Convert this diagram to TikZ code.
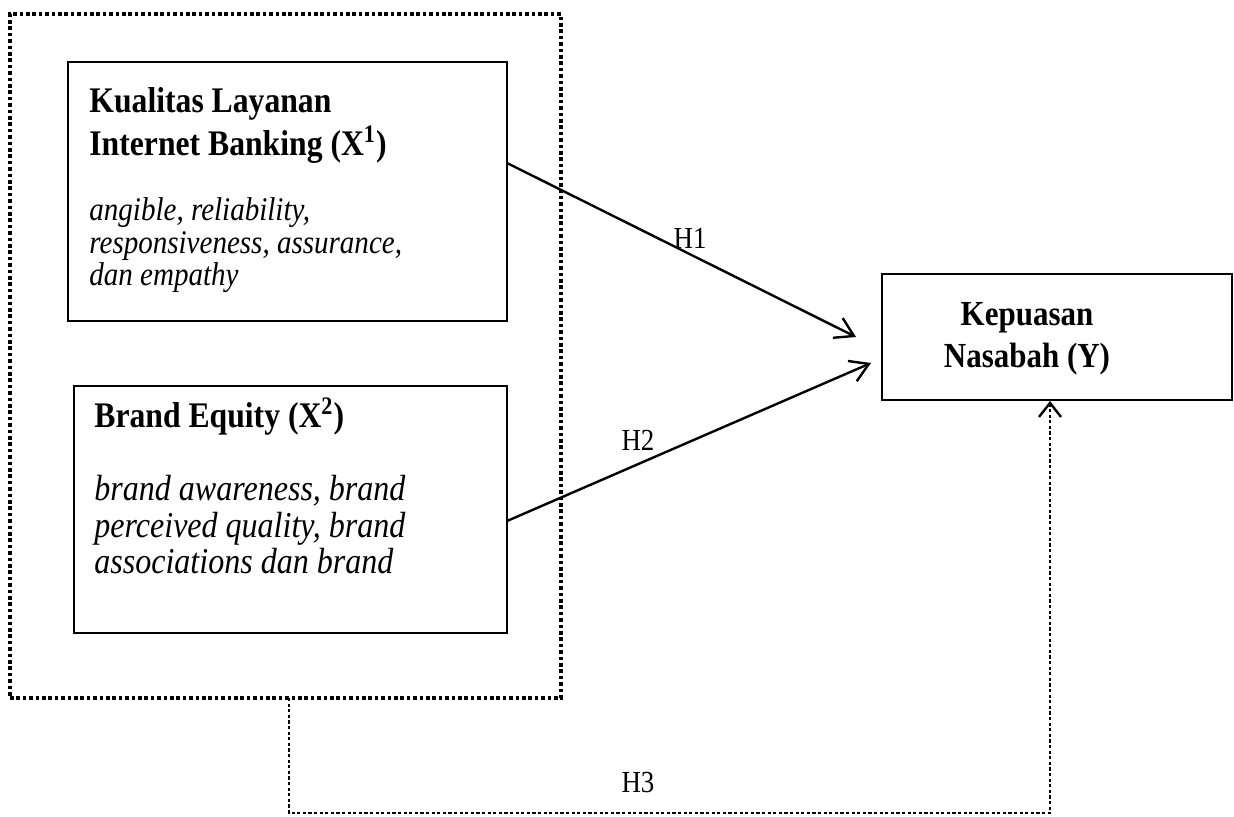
\documentclass[tikz,border=0pt]{standalone}
\usepackage{fontspec}
\setmainfont[FakeStretch=0.88]{Liberation Serif}
\usetikzlibrary{arrows.meta}
\begin{document}
\begin{tikzpicture}[x=0.5pt,y=-0.5pt,
  box/.style={draw=black,line width=1.2pt,anchor=north west,inner sep=0pt,outer sep=0pt},
  ttl/.style={anchor=base west,inner sep=0pt,font=\bfseries\fontsize{17.6pt}{20pt}\selectfont},
  ttla/.style={anchor=base west,inner sep=0pt,font=\bfseries\fontsize{18pt}{20pt}\selectfont},
  itl/.style={anchor=base west,inner sep=0pt,font=\itshape\fontsize{16.5pt}{18pt}\selectfont},
  itlb/.style={anchor=base west,inner sep=0pt,font=\itshape\fontsize{18.2pt}{20pt}\selectfont},
  hlab/.style={anchor=center,inner sep=0pt,font=\fontsize{15.3pt}{18pt}\selectfont},
  ar/.style={line width=1.2pt,-{Straight Barb[length=9pt,width=11pt,line width=1.2pt]}},
  outerdot/.style={draw=black,line width=2.4pt,dash pattern=on 1.8pt off 1.4pt},
  h3line/.style={line width=1.2pt,dash pattern=on 1.6pt off 1.2pt,-{Straight Barb[length=7pt,width=11pt,line width=1.2pt]}}
]
\useasboundingbox (0,0) rectangle (1234,816);
% outer dotted group
\node[outerdot,anchor=north west,inner sep=0pt,outer sep=0pt,minimum width=275.5pt,minimum height=342pt] (grp) at (10,14) {};
% boxes
\node[box,minimum width=219.5pt,minimum height=129.5pt] (b1) at (68,62) {};
\node[box,minimum width=216.5pt,minimum height=123.5pt] (b2) at (74,386) {};
\node[box,minimum width=175pt,minimum height=63pt] (by) at (882,274) {};
% texts box1
\node[ttla] (t1a) at (89,112) {Kualitas Layanan};
\node[ttla] (t1b) at (89,155) {Internet Banking (X\textsuperscript{1})};
\node[itl] (i1a) at (89,220) {angible, reliability,};
\node[itl] (i1b) at (89,253) {responsiveness, assurance,};
\node[itl] (i1c) at (89,285) {dan empathy};
% texts box2
\node[ttla] (t2a) at (94,427) {Brand Equity (X\textsuperscript{2})};
\node[itlb] (i2a) at (94,500) {brand awareness, brand};
\node[itlb] (i2b) at (94,537) {perceived quality, brand};
\node[itlb] (i2c) at (94,573) {associations dan brand};
% text Y
\node[ttl,anchor=base] (ty1) at (1027,325) {Kepuasan};
\node[ttl,anchor=base] (ty2) at (1027,367) {Nasabah (Y)};
% connectors
\coordinate (h1s) at (507,163);
\coordinate (h1e) at (856,337);
\coordinate (h2s) at (507,521);
\coordinate (h2e) at (871,363);
\coordinate (h3s) at (289,698);
\coordinate (h3a) at (289,813);
\coordinate (h3e) at (1050,401);
\draw[ar] (h1s) -- (h1e);
\draw[ar] (h2s) -- (h2e);
\draw[h3line] (h3s) -- (h3a) -| (h3e);
\node[hlab] (l1) at (690,238) {H1};
\node[hlab] (l2) at (638,440) {H2};
\node[hlab] (l3) at (638,782) {H3};
\end{tikzpicture}
\end{document}
